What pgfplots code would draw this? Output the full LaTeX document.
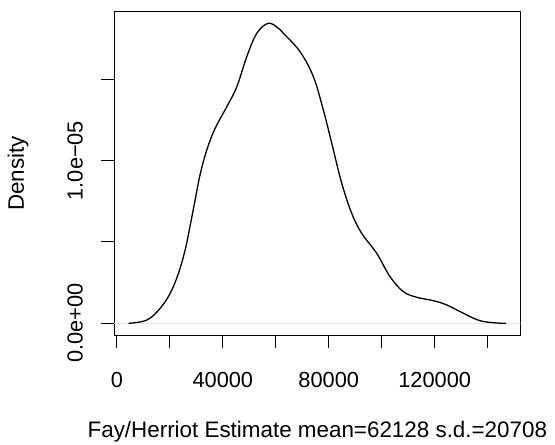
\documentclass[border=0pt]{standalone}
\usepackage{fontspec}
\setmainfont{Liberation Sans}
\usepackage{pgfplots}
\pgfplotsset{compat=1.18}
\begin{document}
\begin{tikzpicture}
\path[use as bounding box] (-114pt,-110pt) rectangle (441pt,335pt);
\begin{axis}[
  at={(0pt,0pt)}, anchor=south west,
  scale only axis, width=406.7pt, height=323.3pt,
  xmin=-1100, xmax=152500, ymin=-0.072, ymax=1.915,
  axis line style={line width=0.9pt},
  tick align=outside, tick style={black, line width=0.9pt},
  major tick length=13pt,
  xtick={0,20000,40000,60000,80000,100000,120000,140000},
  xticklabels={0,,40000,,80000,,120000,},
  ytick={0,0.5,1,1.5},
  yticklabels={0.0e+00,,1.0e−05,},
  xtick pos=bottom, ytick pos=left,
  tick label style={font=\fontsize{21.8pt}{26pt}\selectfont},
  xticklabel style={anchor=center, yshift=-32pt},
  yticklabel style={anchor=center, xshift=-26pt, rotate=90},
  scaled ticks=false,
  label style={font=\fontsize{22.4pt}{26pt}\selectfont},
  xlabel={Fay/Herriot Estimate mean=62128 s.d.=20708},
  ylabel={Density},
  xlabel style={at={(axis description cs:0.5,-0.300)}, anchor=center},
  ylabel style={at={(axis description cs:-0.236,0.5)}, anchor=center},
]
\addplot[gray!20, line width=0.6pt, forget plot] coordinates {(-1100,0) (152500,0)};
\addplot[black, line width=1.3pt, smooth, tension=0.6] coordinates {
(4377,0) (11321,0.020) (16340,0.092) (20113,0.184) (23245,0.307)
(25774,0.451) (27660,0.600) (29547,0.758) (31434,0.915) (33962,1.066)
(37094,1.198) (41509,1.331) (45283,1.454) (49057,1.639) (52830,1.782)
(57208,1.844) (60981,1.813) (62868,1.782) (69170,1.669) (74189,1.516)
(77962,1.311) (81132,1.107) (84906,0.861) (88679,0.676) (92453,0.553)
(98113,0.430) (103132,0.287) (108151,0.195) (113208,0.160) (119472,0.139)
(124528,0.113) (130792,0.062) (137094,0.016) (143396,0.002) (146906,0)
};
\end{axis}
\end{tikzpicture}
\end{document}
